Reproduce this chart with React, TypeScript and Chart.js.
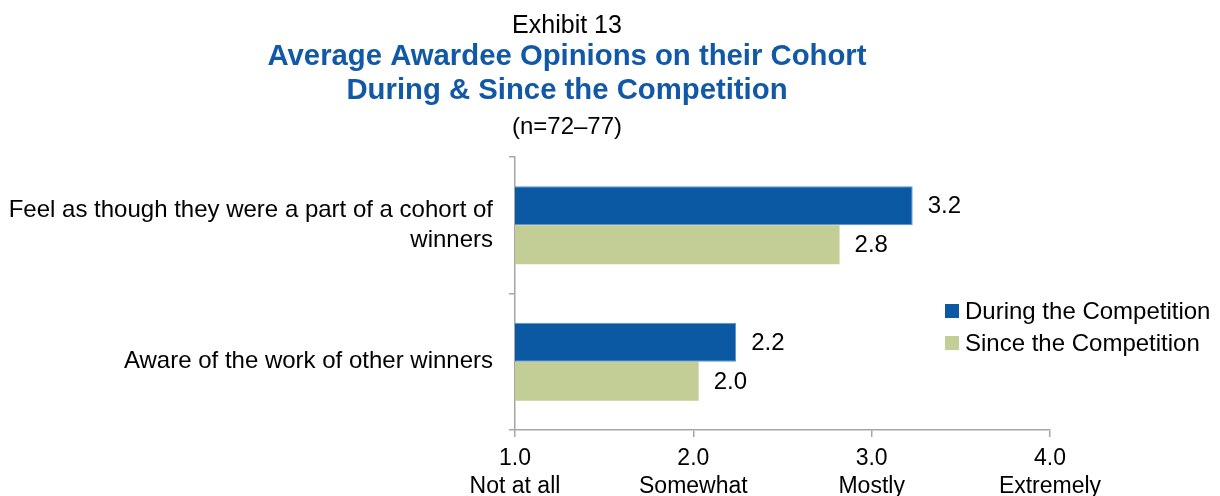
import React, { useEffect, useRef } from "react";
import { Chart, registerables } from "chart.js";

Chart.register(...registerables);

const categories: string[][] = [
  ["Feel as though they were a part of a cohort of", "winners"],
  ["Aware of the work of other winners"],
];
const seriesNames = ["During the Competition", "Since the Competition"];
const duringValues = [3.23, 2.24];
const sinceValues = [2.82, 2.03];
const tickValues = [1, 2, 3, 4];
const tickNames = ["Not at all", "Somewhat", "Mostly", "Extremely"];
const exhibitLabel = "Exhibit 13";
const titleLines = ["Average Awardee Opinions on their Cohort", "During & Since the Competition"];
const subtitle = "(n=72–77)";

const FONT = '"Liberation Sans", Arial, Helvetica, sans-serif';
const BLUE = "#0B58A3";
const GREEN = "#C3CE97";
const TITLE_BLUE = "#1159A6";
const AXIS_GRAY = "#A6A6A6";

const headerPlugin = {
  id: "headerPlugin",
  afterDraw(chart: any) {
    const ctx = chart.ctx;
    const cx = 567;
    ctx.save();
    ctx.textAlign = "center";
    ctx.textBaseline = "alphabetic";
    ctx.fillStyle = "#000";
    ctx.font = `25px ${FONT}`;
    ctx.fillText(exhibitLabel, cx, 33);
    ctx.fillStyle = TITLE_BLUE;
    ctx.font = `bold 29.3px ${FONT}`;
    ctx.fillText(titleLines[0], cx, 65);
    ctx.fillText(titleLines[1], cx, 99);
    ctx.fillStyle = "#000";
    ctx.font = `24px ${FONT}`;
    ctx.fillText(subtitle, cx, 134);
    ctx.restore();
  },
};

const valueLabelPlugin = {
  id: "valueLabelPlugin",
  afterDatasetsDraw(chart: any) {
    const ctx = chart.ctx;
    ctx.save();
    ctx.font = `24px ${FONT}`;
    ctx.fillStyle = "#000";
    ctx.textAlign = "left";
    ctx.textBaseline = "middle";
    chart.data.datasets.forEach((ds: any, di: number) => {
      const meta = chart.getDatasetMeta(di);
      meta.data.forEach((el: any, i: number) => {
        const v = ds.data[i] as number;
        ctx.fillText(v.toFixed(1), el.x + 15, el.y + 1);
      });
    });
    ctx.restore();
  },
};

const legendPlugin = {
  id: "customLegend",
  afterDraw(chart: any) {
    const ctx = chart.ctx;
    ctx.save();
    ctx.font = `24px ${FONT}`;
    ctx.textAlign = "left";
    ctx.textBaseline = "middle";
    const x0 = 945;
    const ys = [311, 343];
    chart.data.datasets.forEach((ds: any, i: number) => {
      ctx.fillStyle = ds.backgroundColor;
      ctx.fillRect(x0, ys[i] - 7, 14, 14);
      ctx.fillStyle = "#000";
      ctx.fillText(ds.label, x0 + 20, ys[i] + 1);
    });
    ctx.restore();
  },
};

export default function App() {
  const ref = useRef<HTMLCanvasElement | null>(null);

  useEffect(() => {
    if (!ref.current) return;
    const chart = new Chart(ref.current, {
      type: "bar",
      data: {
        labels: categories,
        datasets: [
          {
            label: seriesNames[0],
            data: duringValues,
            backgroundColor: BLUE,
            borderColor: "#5D8FCB",
            borderWidth: 1,
            categoryPercentage: 0.57,
            barPercentage: 1.0,
          },
          {
            label: seriesNames[1],
            data: sinceValues,
            backgroundColor: GREEN,
            borderWidth: 0,
            categoryPercentage: 0.57,
            barPercentage: 1.0,
          },
        ],
      },
      options: {
        indexAxis: "y",
        responsive: false,
        animation: false,
        events: [],
        layout: { padding: { top: 157, right: 170, left: 0, bottom: 0 } },
        plugins: {
          legend: { display: false },
          title: { display: false },
          tooltip: { enabled: false },
        },
        scales: {
          x: {
            type: "linear",
            min: 1,
            max: 4,
            afterBuildTicks(scale: any) {
              scale.ticks = tickValues.map((v) => ({ value: v }));
            },
            afterFit(scale: any) {
              scale.height = 66;
            },
            grid: {
              drawOnChartArea: false,
              drawTicks: true,
              tickLength: 7,
              color: AXIS_GRAY,
              lineWidth: 1.5,
            },
            border: { display: true, color: AXIS_GRAY, width: 1.5 },
            ticks: {
              padding: 8,
              color: "#000",
              maxRotation: 0,
              autoSkip: false,
              font: { family: FONT, size: 23, lineHeight: 1.2 },
              callback: (value: any) => {
                const i = tickValues.indexOf(Number(value));
                return [Number(value).toFixed(1), tickNames[i] ?? ""];
              },
            },
          },
          y: {
            type: "category",
            offset: true,
            afterFit(scale: any) {
              scale.width = 515;
            },
            grid: {
              offset: true,
              drawOnChartArea: false,
              drawTicks: true,
              tickLength: 6,
              color: AXIS_GRAY,
              lineWidth: 1.5,
            },
            border: { display: true, color: AXIS_GRAY, width: 1.5 },
            ticks: {
              padding: 16,
              color: "#000",
              autoSkip: false,
              font: { family: FONT, size: 24, lineHeight: 1.25 },
            },
          },
        },
      },
      plugins: [headerPlugin, valueLabelPlugin, legendPlugin],
    } as any);
    return () => chart.destroy();
  }, []);

  return (
    <div style={{ position: "fixed", left: 0, top: 0, width: 1220, height: 496, background: "#fff" }}>
      <canvas ref={ref} width={1220} height={496} style={{ display: "block" }} />
    </div>
  );
}
